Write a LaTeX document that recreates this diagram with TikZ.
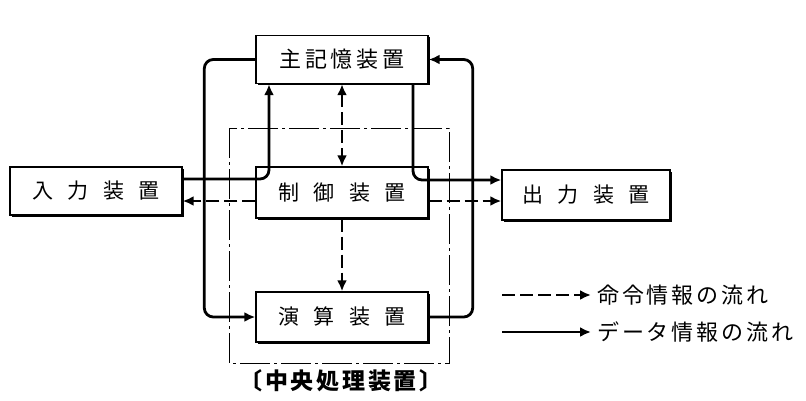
\documentclass[tikz,border=0pt]{standalone}
\usepackage{fontspec}
\usetikzlibrary{arrows.meta,shadows}
\newfontfamily\jpcpu[LetterSpace=12]{Noto Sans CJK JP}
\newfontfamily\jpbox[LetterSpace=68]{Noto Sans CJK JP}
\newfontfamily\jpmem[LetterSpace=16]{Noto Sans CJK JP}
\newfontfamily\jpleg[LetterSpace=13]{Noto Sans CJK JP}

\begin{document}
\begin{tikzpicture}[x=1pt,y=-1pt,
  unit/.style={draw,line width=1.4pt,fill=white,minimum width=172pt,minimum height=48pt,inner sep=0pt,
    font=\fontsize{21}{26}\selectfont\jpbox,
    general shadow={fill=black,shadow xshift=1.8pt,shadow yshift=-1.8pt}},
  data/.style={line width=2.8pt,rounded corners=9pt,-{Latex[length=11pt,width=10pt]}},
  cmd/.style={data,dash pattern=on 13pt off 5pt},
  cpuframe/.style={line width=0.9pt,dash pattern=on 30pt off 4pt on 3pt off 4pt},
  legend/.style={anchor=west,inner sep=6pt,font=\fontsize{22}{26}\selectfont\jpleg}]
\useasboundingbox (0,0) rectangle (806,400);
\draw[cpuframe] (229,128) rectangle (449,363);
\node[unit,font=\fontsize{22}{26}\selectfont\jpmem] (mem) at (342,59.5) {主記憶装置};
\node[unit,minimum height=51pt] (ctl) at (342,192.5) {制御装置};
\node[unit,minimum height=50pt] (alu) at (342,317) {演算装置};
\node[unit] (inp) at (96,191) {入力装置};
\node[unit,minimum width=168pt,minimum height=50pt] (out) at (586,195) {出力装置};
\node[font=\fontsize{23}{26}\selectfont\jpcpu\bfseries] (cpu) at (341,381) {〔中央処理装置〕};
\draw[data] ([yshift=12pt]inp.east) -| ([xshift=-73pt]mem.south);
\draw[data] (alu.east) -- ++(44,0) |- (mem.east);
\draw[data] (mem.west) -- ++(-51,0) |- (alu.west);
\draw[data] ([xshift=71pt]mem.south) |- ([yshift=15pt]out.west);
\draw[cmd,{Latex[length=11pt,width=10pt]}-{Latex[length=11pt,width=10pt]}] (mem.south) -- (ctl.north);
\draw[cmd] (ctl.south) -- (alu.north);
\coordinate (cw) at ([yshift=-8.5pt]ctl.west);
\coordinate (ce) at ([yshift=-8.5pt]ctl.east);
\draw[cmd] (cw) -- (cw -| inp.east);
\draw[cmd] (ce) -- (ce -| out.west);
\node[legend] (leg1) at (591,295) {命令情報の流れ};
\node[legend] (leg2) at (591,332) {データ情報の流れ};
\coordinate (s1) at (502,295);
\coordinate (s2) at (502,332);
\draw[cmd] (s1) -- (leg1.west);
\draw[data] (s2) -- (leg2.west);
\end{tikzpicture}
\end{document}
